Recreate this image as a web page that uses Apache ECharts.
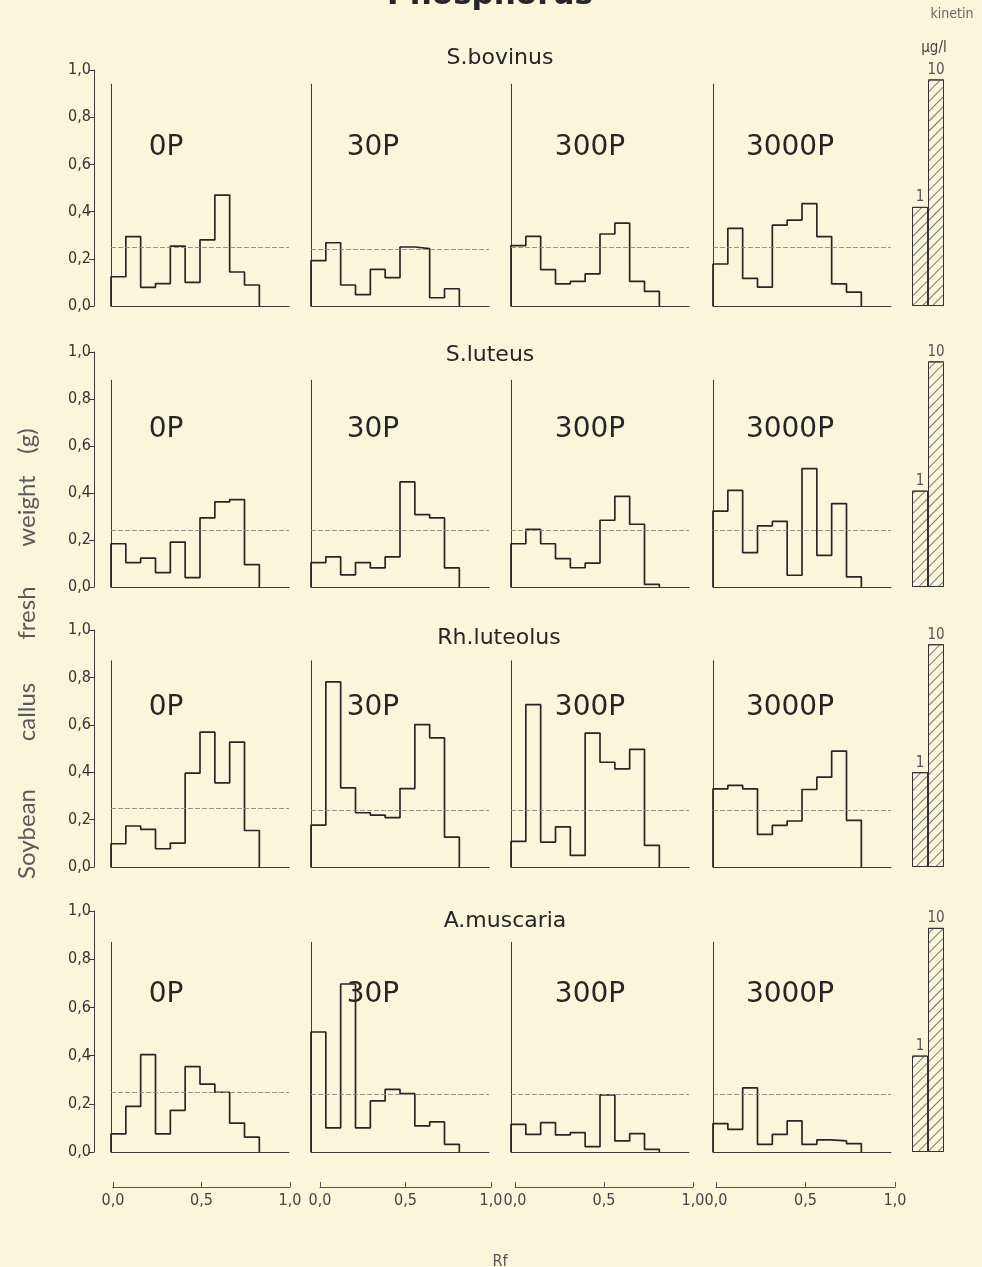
<!DOCTYPE html>
<html><head><meta charset="utf-8">
<script src="https://cdn.jsdelivr.net/npm/echarts@6/dist/echarts.min.js"></script>
<style>html,body{margin:0;padding:0;background:#faf6dc}#c{width:982px;height:1267px}</style>
</head><body><div id="c"></div>
<script>
// ---------------- DATA ----------------
const species = ['S.bovinus', 'S.luteus', 'Rh.luteolus', 'A.muscaria'];
const treatments = ['0P', '30P', '300P', '3000P'];
const rfTickLabels = ['0,0', '0,5', '1,0'];
const kinetinDoses = ['1', '10'];
const yTitleWords = ['Soybean', 'callus', 'fresh', 'weight', '(g)'];

// fresh weight (g) per Rf section (10 sections), per species and phosphorus level
const bovinus_0P    = [0.124, 0.294, 0.079, 0.095, 0.254, 0.100, 0.280, 0.470, 0.144, 0.089];
const bovinus_30P   = [0.192, 0.268, 0.089, 0.048, 0.155, 0.120, 0.250, 0.243, 0.035, 0.073];
const bovinus_300P  = [0.256, 0.295, 0.154, 0.094, 0.104, 0.136, 0.305, 0.351, 0.104, 0.062];
const bovinus_3000P = [0.178, 0.329, 0.117, 0.080, 0.343, 0.364, 0.434, 0.294, 0.094, 0.059];

const luteus_0P    = [0.184, 0.104, 0.123, 0.061, 0.191, 0.040, 0.294, 0.362, 0.372, 0.095];
const luteus_30P   = [0.104, 0.128, 0.052, 0.104, 0.081, 0.128, 0.447, 0.308, 0.294, 0.081];
const luteus_300P  = [0.184, 0.245, 0.184, 0.121, 0.082, 0.102, 0.284, 0.386, 0.267, 0.011];
const luteus_3000P = [0.323, 0.411, 0.146, 0.260, 0.279, 0.050, 0.504, 0.135, 0.355, 0.043];

const luteolus_0P    = [0.098, 0.173, 0.159, 0.077, 0.101, 0.396, 0.569, 0.355, 0.527, 0.154];
const luteolus_30P   = [0.177, 0.781, 0.334, 0.229, 0.219, 0.208, 0.331, 0.601, 0.545, 0.126];
const luteolus_300P  = [0.108, 0.685, 0.105, 0.169, 0.049, 0.565, 0.442, 0.414, 0.496, 0.091];
const luteolus_3000P = [0.330, 0.344, 0.330, 0.138, 0.176, 0.194, 0.327, 0.379, 0.489, 0.197];

const muscaria_0P    = [0.075, 0.189, 0.404, 0.075, 0.173, 0.354, 0.282, 0.248, 0.120, 0.062];
const muscaria_30P   = [0.498, 0.100, 0.697, 0.100, 0.212, 0.260, 0.242, 0.108, 0.125, 0.032];
const muscaria_300P  = [0.115, 0.073, 0.122, 0.071, 0.080, 0.022, 0.237, 0.046, 0.076, 0.011];
const muscaria_3000P = [0.118, 0.094, 0.266, 0.032, 0.073, 0.129, 0.032, 0.050, 0.046, 0.035];

// control level (dashed line) per panel
const control_bovinus  = [0.247, 0.244, 0.249, 0.249];
const control_luteus   = [0.245, 0.238, 0.245, 0.245];
const control_luteolus = [0.246, 0.240, 0.240, 0.240];
const control_muscaria = [0.249, 0.242, 0.239, 0.243];

// kinetin controls (1 and 10 µg/l)
const kinetin_bovinus  = [0.42, 0.96];
const kinetin_luteus   = [0.41, 0.96];
const kinetin_luteolus = [0.40, 0.94];
const kinetin_muscaria = [0.40, 0.93];

const panelData = [
  [bovinus_0P, bovinus_30P, bovinus_300P, bovinus_3000P],
  [luteus_0P, luteus_30P, luteus_300P, luteus_3000P],
  [luteolus_0P, luteolus_30P, luteolus_300P, luteolus_3000P],
  [muscaria_0P, muscaria_30P, muscaria_300P, muscaria_3000P]
];
const controlData = [control_bovinus, control_luteus, control_luteolus, control_muscaria];
const kinetinData = [kinetin_bovinus, kinetin_luteus, kinetin_luteolus, kinetin_muscaria];

// ---------------- LAYOUT ----------------
const BG = '#faf6dc';
const INK = '#262626';
const rowY1 = [70, 352, 630, 911];     // pixel of 1.0
const rowY0 = [306, 587, 867, 1152];   // pixel of 0.0
const panelTopVal = [0.94, 0.88, 0.87, 0.87];
const panelLeft = [111, 311, 511, 713];
const panelW = 178;
const binsPerPanel = 12;
const labelX = [166, 373, 590, 790];
const labelY = [148, 430, 708, 995];
const speciesX = [500, 490, 499, 505];
const speciesY = [58, 355, 638, 921];
const rfLeft = [113, 320, 515, 716];
const rfRight = [290, 491, 693, 895];
const rfAxisY = 1187;
const yTitleCenters = [834, 712, 613, 511, 441];

const comma = v => v.toFixed(1).replace('.', ',');
const NUMFONT = 'DejaVu Sans Condensed, DejaVu Sans';

const grid = [], xAxis = [], yAxis = [], series = [], graphic = [];
let gi = 0;

for (let r = 0; r < 4; r++) {
  const y1 = rowY1[r], y0 = rowY0[r], H = y0 - y1;
  // shared left value axis
  grid.push({left: 94, top: y1, width: 1, height: H});
  xAxis.push({gridIndex: gi, type: 'value', show: false, min: 0, max: 1});
  yAxis.push({gridIndex: gi, type: 'value', min: 0, max: 1, interval: 0.2,
    axisLine: {show: true, lineStyle: {color: '#3a3a3a', width: 1}},
    axisTick: {show: true, length: 5, lineStyle: {color: '#3a3a3a'}},
    splitLine: {show: false},
    axisLabel: {formatter: comma, fontSize: 16, color: '#333', margin: 3, fontFamily: NUMFONT}});
  gi++;

  for (let p = 0; p < 4; p++) {
    const tv = panelTopVal[r];
    const h = tv * H;
    grid.push({left: panelLeft[p], top: y0 - h, width: panelW, height: h});
    xAxis.push({gridIndex: gi, type: 'value', min: 0, max: binsPerPanel,
      axisLine: {show: true, onZero: false, lineStyle: {color: '#3a3a3a', width: 1}},
      axisTick: {show: false}, axisLabel: {show: false}, splitLine: {show: false}});
    yAxis.push({gridIndex: gi, type: 'value', min: 0, max: tv,
      axisLine: {show: true, lineStyle: {color: '#3a3a3a', width: 1}},
      axisTick: {show: false}, axisLabel: {show: false}, splitLine: {show: false}});
    const vals = panelData[r][p];
    const pts = [[0, 0]].concat(vals.map((v, i) => [i, v])).concat([[vals.length, 0]]);
    series.push({type: 'line', xAxisIndex: gi, yAxisIndex: gi, step: 'end',
      data: pts, showSymbol: false, silent: true, animation: false,
      lineStyle: {color: INK, width: 1.7},
      markLine: {silent: true, symbol: 'none', animation: false,
        label: {show: false},
        lineStyle: {color: '#8a8a80', width: 0.9, type: [5, 2]},
        data: [{yAxis: controlData[r][p]}]}});
    graphic.push({type: 'text', x: labelX[p], y: labelY[r],
      style: {text: treatments[p], fontSize: 28, fill: INK, fontFamily: 'DejaVu Sans',
        textAlign: 'center', textVerticalAlign: 'middle'}});
    gi++;
  }

  // kinetin reference bars
  grid.push({left: 912, top: y1, width: 32, height: H});
  xAxis.push({gridIndex: gi, type: 'category', data: kinetinDoses, show: false});
  yAxis.push({gridIndex: gi, type: 'value', min: 0, max: 1, show: false});
  series.push({type: 'bar', xAxisIndex: gi, yAxisIndex: gi, data: kinetinData[r],
    barCategoryGap: '0%', barGap: '0%', silent: true, animation: false,
    itemStyle: {color: BG, borderColor: '#333', borderWidth: 1,
      decal: {symbol: 'rect', symbolSize: 1, dashArrayX: [1, 0], dashArrayY: [1, 6],
        rotation: -Math.PI / 4, color: '#777'}},
    label: {show: true, position: 'top', formatter: '{b}', fontSize: 15, color: '#555',
      distance: 2, fontFamily: NUMFONT}});
  gi++;

  graphic.push({type: 'text', x: speciesX[r], y: speciesY[r],
    style: {text: species[r], fontSize: 22, fill: INK, fontFamily: 'DejaVu Sans',
      textAlign: 'center', textVerticalAlign: 'middle'}});
}

// bottom Rf axes
for (let p = 0; p < 4; p++) {
  grid.push({left: rfLeft[p], top: rfAxisY - 20, width: rfRight[p] - rfLeft[p], height: 20});
  xAxis.push({gridIndex: gi, type: 'value', min: 0, max: 1, interval: 0.5,
    axisLine: {show: true, onZero: false, lineStyle: {color: '#555', width: 1}},
    axisTick: {show: true, inside: true, length: 5, lineStyle: {color: '#555'}},
    splitLine: {show: false},
    axisLabel: {formatter: v => rfTickLabels[Math.round(v * 2)], fontSize: 16, color: '#444',
      margin: 6, fontFamily: NUMFONT, showMinLabel: true, showMaxLabel: true}});
  yAxis.push({gridIndex: gi, type: 'value', show: false, min: 0, max: 1});
  gi++;
}

graphic.push(
  {type: 'text', x: 490, y: -4, style: {text: 'Phosphorus', fontSize: 31, fontWeight: 'bold',
    fill: INK, fontFamily: 'DejaVu Sans', textAlign: 'center', textVerticalAlign: 'middle'}},
  {type: 'text', x: 952, y: 14, style: {text: 'kinetin', fontSize: 14, fill: '#666',
    fontFamily: NUMFONT, textAlign: 'center', textVerticalAlign: 'middle'}},
  {type: 'text', x: 934, y: 48, style: {text: 'µg/l', fontSize: 15, fill: '#444',
    fontFamily: NUMFONT, textAlign: 'center', textVerticalAlign: 'middle'}},
  {type: 'text', x: 500, y: 1262, style: {text: 'Rf', fontSize: 16, fill: '#555',
    fontFamily: NUMFONT, textAlign: 'center', textVerticalAlign: 'middle'}}
);
yTitleWords.forEach((w, i) => graphic.push({type: 'text', x: 27, y: yTitleCenters[i],
  rotation: Math.PI / 2,
  style: {text: w, fontSize: 24, fill: '#5a5a5a', fontFamily: 'Lato',
    textAlign: 'center', textVerticalAlign: 'middle'}}));

const chart = echarts.init(document.getElementById('c'), null, {renderer: 'canvas'});
chart.setOption({backgroundColor: BG, animation: false, grid, xAxis, yAxis, series, graphic});
</script></body></html>
